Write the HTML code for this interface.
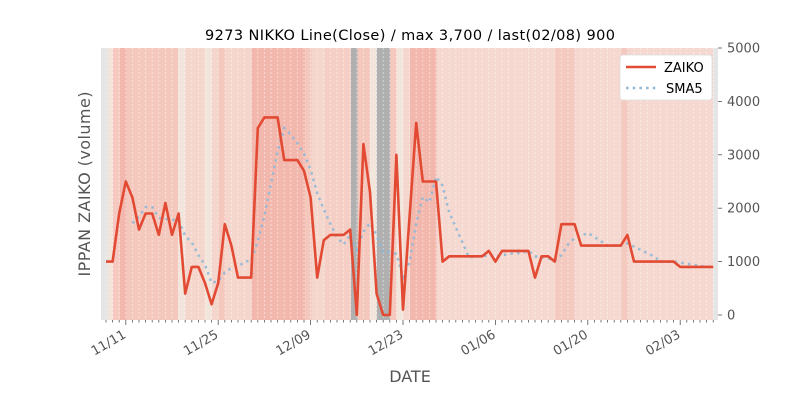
<!DOCTYPE html>
<html><head><meta charset="utf-8"><style>html,body{margin:0;padding:0;background:#fff}svg{display:block}</style></head>
<body>
<svg id="s" width="800" height="400" xmlns="http://www.w3.org/2000/svg" font-family="'DejaVu Sans','Liberation Sans',sans-serif">
<rect x="101" y="48" width="617" height="272" fill="#e5e5e5"/>
<g id="bands"></g>
<g id="grid"></g>
<g id="ticks"></g>
<polyline id="sma" fill="none" stroke="#8fb8d6" stroke-width="2.5" stroke-dasharray="2.5,4.2" opacity="0.9"/>
<polyline id="zai" fill="none" stroke="#e24a33" stroke-width="2.6" stroke-linejoin="round"/>
<text x="410" y="40" text-anchor="middle" font-size="14.5" fill="#000" textLength="410">9273 NIKKO Line(Close) / max 3,700 / last(02/08) 900</text>
<text transform="translate(90,184) rotate(-90)" text-anchor="middle" font-size="16" fill="#555" textLength="185">IPPAN ZAIKO (volume)</text>
<text x="410" y="382" text-anchor="middle" font-size="16" fill="#555">DATE</text>
<g font-size="13" fill="#555" id="ylab"></g>
<g font-size="13" fill="#555" id="xlab"></g>
<g>
<rect x="620" y="55" width="92" height="45" rx="3" fill="#fff" stroke="#ddd" stroke-width="0.8"/>
<line x1="626" y1="67" x2="656" y2="67" stroke="#e24a33" stroke-width="2.6"/>
<text x="664" y="72" font-size="13" fill="#000">ZAIKO</text>
<line x1="626" y1="88" x2="656" y2="88" stroke="#8fb8d6" stroke-width="2.5" stroke-dasharray="2.5,4.2"/>
<text x="666" y="93" font-size="13" fill="#000">SMA5</text>
</g>
</svg>
<script>
const NS="http://www.w3.org/2000/svg";
function el(p,t,a,txt){const e=document.createElementNS(NS,t);for(const k in a)e.setAttribute(k,a[k]);if(txt)e.textContent=txt;document.getElementById(p).appendChild(e);return e;}
const bands=[[101,107.7,"#e5e5e5"],[107.7,112.7,"#f2e5dc"],[112.7,120,"#f5c9bf"],[120,126.7,"#f3b8ad"],[126.7,178.3,"#f5c8be"],[178.3,185,"#f2e5dc"],[185,205,"#f5d6cd"],[205,211.7,"#f2e5dc"],[211.7,218.3,"#f5d6cd"],[218.3,225,"#f5c8be"],[225,251.7,"#f5d6cd"],[251.7,305,"#f3b8ad"],[305,311.7,"#f5c8be"],[311.7,325,"#f5d6cd"],[325,351,"#f5cfc5"],[351,357.7,"#b0b0b0"],[357.7,370,"#f5c8be"],[370,376.7,"#f2e5dc"],[376.7,390.3,"#b0b0b0"],[390.3,396.7,"#f5c8be"],[396.7,403.3,"#f2e5dc"],[403.3,410,"#f5d6cd"],[410,436.7,"#f3b8ad"],[436.7,555,"#f5d8cf"],[555,575,"#f4c9bf"],[575,621,"#f5d8cf"],[621,628.3,"#f4c9bf"],[628.3,713.3,"#f5d8cf"],[713.3,718,"#e5e5e5"]];
bands.forEach(b=>el("bands","rect",{x:b[0],y:48,width:b[1]-b[0],height:272,fill:b[2]}));
const d=[1000,1000,1900,2500,2200,1600,1900,1900,1500,2100,1500,1900,400,900,900,600,200,600,1700,1300,700,700,700,3500,3700,3700,3700,2900,2900,2900,2700,2200,700,1400,1500,1500,1500,1600,0,3200,2300,400,0,0,3000,100,1850,3600,2500,2500,2500,1000,1100,1100,1100,1100,1100,1100,1200,1000,1200,1200,1200,1200,1200,700,1100,1100,1000,1700,1700,1700,1300,1300,1300,1300,1300,1300,1300,1500,1000,1000,1000,1000,1000,1000,1000,900,900,900,900,900,900];
const X=i=>106+6.6*i, Y=v=>315-v*0.0534;
document.getElementById("zai").setAttribute("points",d.map((v,i)=>X(i).toFixed(1)+","+Y(v).toFixed(1)).join(" "));
let sp=[];for(let i=4;i<d.length;i++){let s=0;for(let j=i-4;j<=i;j++)s+=d[j];sp.push(X(i).toFixed(1)+","+Y(s/5).toFixed(1));}
document.getElementById("sma").setAttribute("points",sp.join(" "));
for(let i=0;i<d.length;i++){el("grid","line",{x1:X(i),y1:48,x2:X(i),y2:320,stroke:"rgba(255,255,255,0.55)","stroke-width":0.8,"stroke-dasharray":"2,2"});
 const major=(i-3)%14===0;el("ticks","line",{x1:X(i),y1:320,x2:X(i),y2:major?325:322.5,stroke:"#555","stroke-width":0.8});}
[0,1000,2000,3000,4000,5000].forEach(v=>{el("ticks","line",{x1:718,y1:Y(v),x2:722,y2:Y(v),stroke:"#555","stroke-width":0.8});el("ylab","text",{x:727,y:Y(v)+4.5},String(v));});
["11/11","11/25","12/09","12/23","01/06","01/20","02/03"].forEach((t,k)=>{const x=X(3+14*k);el("xlab","text",{x:x+1,y:337,"text-anchor":"end",transform:`rotate(-30 ${x+1} 337)`},t);});
</script>
</body></html>
